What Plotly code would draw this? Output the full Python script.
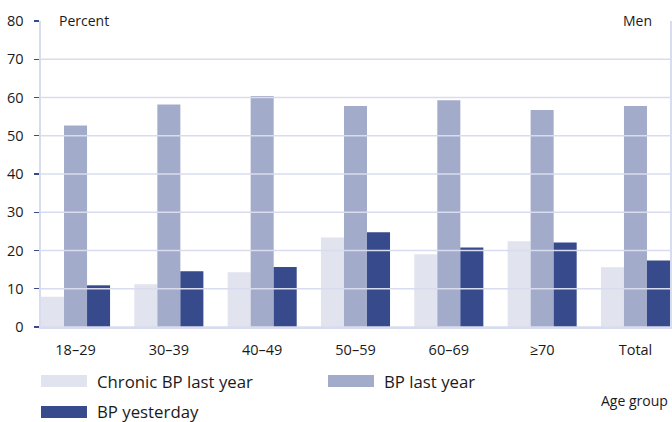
import plotly.graph_objects as go

categories = ["18–29", "30–39", "40–49", "50–59", "60–69", "≥70", "Total"]
series_names = ["Chronic BP last year", "BP last year", "BP yesterday"]
chronic_bp_last_year = [7.9, 11.2, 14.3, 23.4, 19.0, 22.4, 15.6]
bp_last_year = [52.7, 58.2, 60.4, 57.8, 59.3, 56.7, 57.8]
bp_yesterday = [10.9, 14.6, 15.7, 24.8, 20.8, 22.1, 17.4]
y_ticks = [0, 10, 20, 30, 40, 50, 60, 70, 80]
colors = ["#e1e3ef", "#a3abca", "#364a8c"]

FONT = "Open Sans"
TXT = "#1a1a1a"

fig = go.Figure()
for name, vals, col in zip(series_names, [chronic_bp_last_year, bp_last_year, bp_yesterday], colors):
    fig.add_trace(go.Bar(x=categories, y=vals, name=name, marker=dict(color=col, line=dict(width=0)),
                         showlegend=False, hoverinfo="skip"))

shapes = []
# gridlines above bars
for t in y_ticks[:-1]:
    shapes.append(dict(type="line", xref="paper", yref="y", x0=0, x1=1, y0=t, y1=t,
                       line=dict(color="#d9dcee", width=1.6), layer="above"))
# legend swatches
legend_pos = [(0.0, -0.157), (0.4563, -0.157), (0.0, -0.258)]
for (lx, ly), col, name in zip(legend_pos, colors, series_names):
    shapes.append(dict(type="rect", xref="paper", yref="paper", x0=lx, x1=lx + 0.0731,
                       y0=ly, y1=ly - 0.039, fillcolor=col, line=dict(width=0)))

annotations = []
for (lx, ly), name in zip(legend_pos, series_names):
    annotations.append(dict(xref="paper", yref="paper", x=lx + 0.0858, y=ly - 0.0195, text=name,
                            showarrow=False, xanchor="left", yanchor="middle",
                            font=dict(family=FONT, size=16.8, color=TXT)))
annotations += [
    dict(xref="paper", yref="paper", x=0.0254, y=1.003, text="Percent", showarrow=False,
         xanchor="left", yanchor="middle", font=dict(family=FONT, size=14, color=TXT)),
    dict(xref="paper", yref="paper", x=0.975, y=1.003, text="Men", showarrow=False,
         xanchor="right", yanchor="middle", font=dict(family=FONT, size=14, color=TXT)),
    dict(xref="paper", yref="paper", x=0.944, y=-0.2386, text="Age group", showarrow=False,
         xanchor="center", yanchor="middle", font=dict(family=FONT, size=14, color=TXT)),
]

fig.update_layout(
    width=672, height=422,
    margin=dict(l=41, r=2, t=21, b=95, autoexpand=False),
    paper_bgcolor="white", plot_bgcolor="white",
    barmode="group", bargap=0.26, bargroupgap=0,
    shapes=shapes, annotations=annotations,
    font=dict(family=FONT, color=TXT),
    hovermode=False,
)
fig.update_xaxes(range=[-0.37, 6.37], showgrid=False, showline=True, linecolor="#d9dcee", linewidth=1.6,
                 ticks="", ticklabelstandoff=9, tickfont=dict(family=FONT, size=14.5, color=TXT),
                 fixedrange=True, automargin=False)
fig.update_yaxes(range=[0, 80], tickvals=y_ticks, showgrid=False, zeroline=False,
                 showline=True, mirror=True, linecolor="#d9dcee", linewidth=1.6,
                 ticks="outside", ticklen=5, tickcolor="#364a8c", tickwidth=1.2,
                 ticklabelstandoff=8, tickfont=dict(family=FONT, size=14.5, color=TXT),
                 fixedrange=True, automargin=False)

fig.write_html("out.html", config={"displayModeBar": False, "staticPlot": True},
               post_script="document.body.style.margin='0';document.body.style.overflow='hidden';")
